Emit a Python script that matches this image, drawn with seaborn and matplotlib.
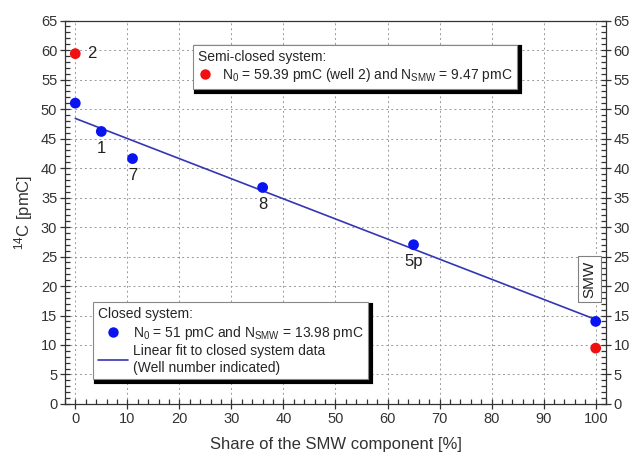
import numpy as np
import pandas as pd
import matplotlib
matplotlib.use("Agg")
import matplotlib.pyplot as plt
import seaborn as sns
from matplotlib.lines import Line2D
from matplotlib.ticker import MultipleLocator

sns.set_style("white")
plt.rcParams['font.family'] = ['Liberation Sans', 'DejaVu Sans']
plt.rcParams['mathtext.default'] = 'regular'

# data
closed_x = [0, 5, 11, 36, 65, 100]
closed_y = [51.0, 46.2, 41.6, 36.7, 27.0, 14.0]
semi_x = [0, 100]
semi_y = [59.39, 9.47]
well_labels = ["", "1", "7", "8", "5p", ""]
well2_label = "2"

slope, intercept = np.polyfit(closed_x, closed_y, 1)
fit_x = [0, 100]
fit_y = [intercept + slope * v for v in fit_x]

fig = plt.figure(figsize=(6.36, 4.57), dpi=100)
ax = fig.add_axes([0.102, 0.116, 0.851, 0.839])

df_fit = pd.DataFrame({"x": fit_x, "y": fit_y})
sns.lineplot(data=df_fit, x="x", y="y", color="#3535b5", lw=1.2, ax=ax, zorder=3)
df_c = pd.DataFrame({"x": closed_x, "y": closed_y})
sns.scatterplot(data=df_c, x="x", y="y", color="#0a14f0", s=60, edgecolor="none", ax=ax, zorder=4)
df_s = pd.DataFrame({"x": semi_x, "y": semi_y})
sns.scatterplot(data=df_s, x="x", y="y", color="#f01010", s=60, edgecolor="none", ax=ax, zorder=4)

for x, y, t in zip(closed_x, closed_y, well_labels):
    if t:
        ax.text(x, y - 1.6, t, ha="center", va="top", fontsize=12, color="#222222")
ax.text(semi_x[0] + 2.2, semi_y[0], well2_label, ha="left", va="center", fontsize=12, color="#222222")

ax.text(98.8, 21.2, "SMW", rotation=90, ha="center", va="center", fontsize=11, color="#222222",
        bbox=dict(boxstyle="square,pad=0.3", fc="white", ec="#808080", lw=0.8))

ax.set_xlim(-2, 102)
ax.set_ylim(0, 65)
ax.xaxis.set_major_locator(MultipleLocator(10))
ax.xaxis.set_minor_locator(MultipleLocator(2))
ax.yaxis.set_major_locator(MultipleLocator(5))
ax.yaxis.set_minor_locator(MultipleLocator(1))
ax.tick_params(axis="both", which="major", direction="inout", length=7, width=0.9,
               labelsize=10.5, color="#333333", labelcolor="#333333", pad=2)
ax.tick_params(axis="both", which="minor", direction="in", length=3.5, width=0.9, color="#333333")
ax.tick_params(axis="y", which="both", right=True, labelright=True, left=True)
ax.tick_params(axis="x", which="both", bottom=True, top=False)
ax.grid(True, which="major", ls=(0, (2, 3)), color="#999999", lw=0.7)
for sp in ax.spines.values():
    sp.set_color("#333333")
    sp.set_linewidth(0.9)

ax.set_xlabel("Share of the SMW component [%]", fontsize=12, color="#333333", labelpad=8)
ax.set_ylabel("$^{14}$C [pmC]", fontsize=12, color="#333333", labelpad=4)

shadow = {"color": "black", "alpha": 1.0, "linewidth": 3.0}
h_semi = Line2D([], [], ls="none", marker="o", ms=7.5, color="#f01010", mec="none")
leg1 = ax.legend([h_semi], ["N$_0$ = 59.39 pmC (well 2) and N$_{SMW}$ = 9.47 pmC"],
                 title="Semi-closed system:", alignment="left", loc="upper left",
                 bbox_to_anchor=(0.237, 0.937), borderaxespad=0, fancybox=False, shadow=shadow,
                 framealpha=1, edgecolor="#888888", fontsize=10, title_fontsize=10,
                 handlelength=1.0, borderpad=0.35, labelspacing=0.2, handletextpad=0.7)
leg1.get_frame().set_linewidth(0.8)
ax.add_artist(leg1)

h_closed = Line2D([], [], ls="none", marker="o", ms=7.5, color="#0a14f0", mec="none")
h_fit = Line2D([], [], color="#3535b5", lw=1.2)
leg2 = ax.legend([h_closed, h_fit],
                 ["N$_0$ = 51 pmC and N$_{SMW}$ = 13.98 pmC",
                  "Linear fit to closed system data\n(Well number indicated)"],
                 title="Closed system:", alignment="left", loc="upper left",
                 bbox_to_anchor=(0.052, 0.266), borderaxespad=0, fancybox=False, shadow=shadow,
                 framealpha=1, edgecolor="#888888", fontsize=10, title_fontsize=10,
                 handlelength=2.2, borderpad=0.35, labelspacing=0.2, handletextpad=0.3)
leg2.get_frame().set_linewidth(0.8)

fig.savefig("out.png", dpi=100)
